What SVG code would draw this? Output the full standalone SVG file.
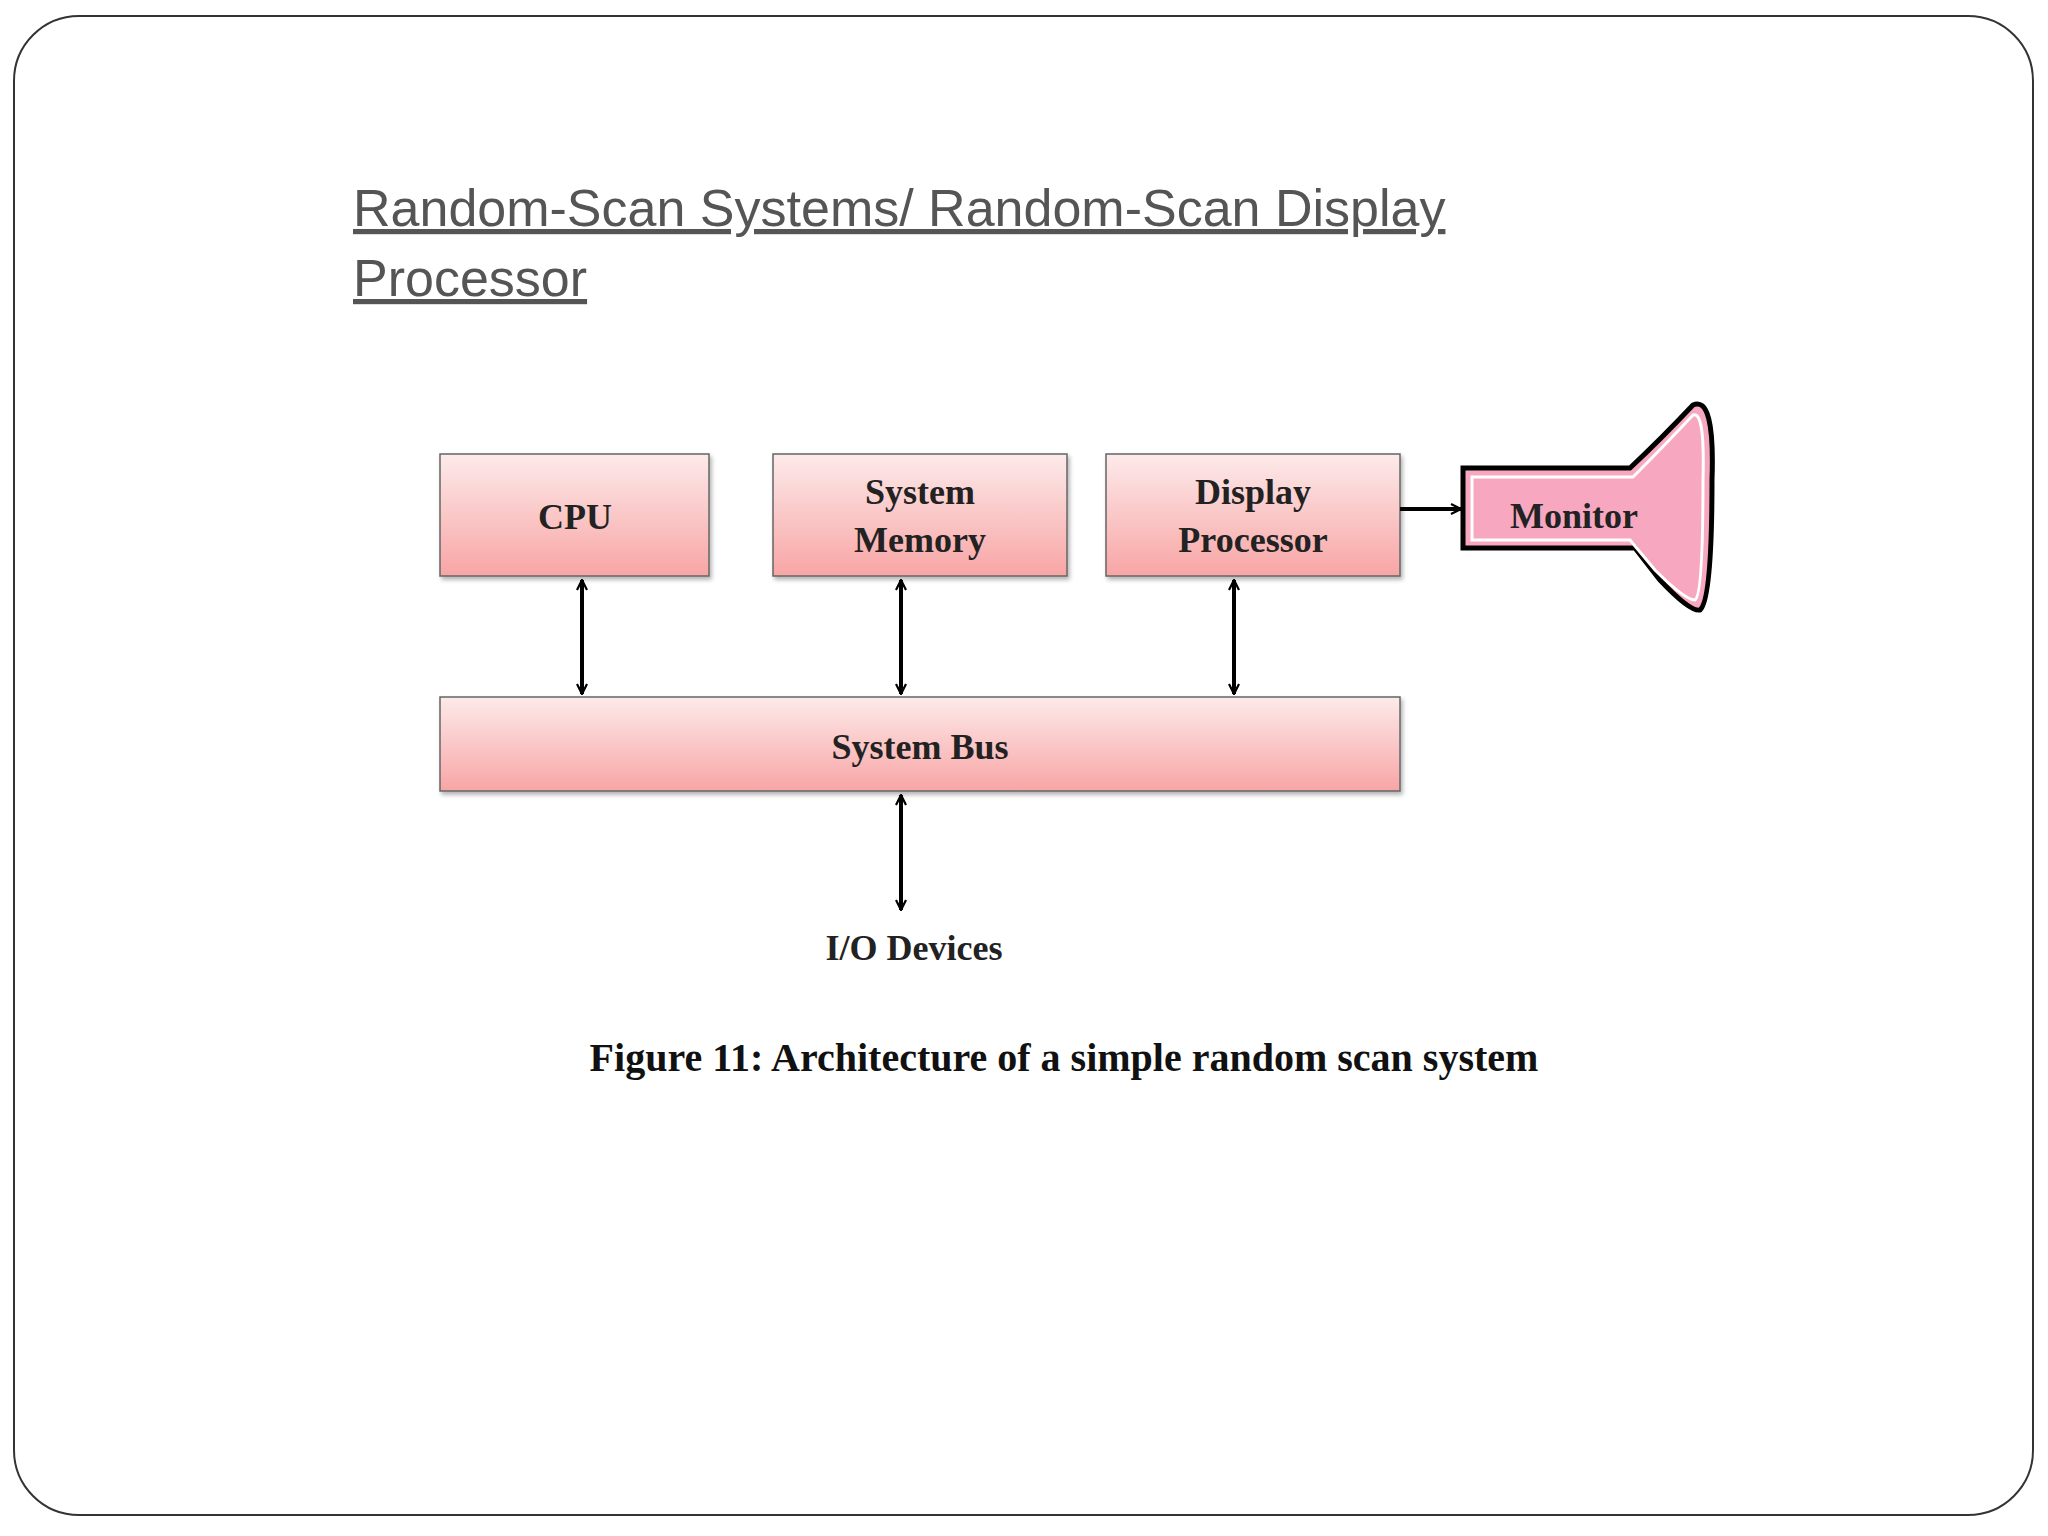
<svg xmlns="http://www.w3.org/2000/svg" width="2048" height="1536" viewBox="0 0 2048 1536">
<defs>
<linearGradient id="g" x1="0" y1="0" x2="0" y2="1"><stop offset="0" stop-color="#fdeaea"/><stop offset="1" stop-color="#f8a5a5"/></linearGradient>
<marker id="a" viewBox="0 0 12 12" refX="11" refY="6" markerWidth="12" markerHeight="12" markerUnits="userSpaceOnUse" orient="auto-start-reverse"><path d="M1,1 L11,6 L1,11" fill="none" stroke="#000" stroke-width="2.2"/></marker>
<filter id="s" x="-5%" y="-5%" width="115%" height="125%"><feDropShadow dx="2" dy="3" stdDeviation="2" flood-color="#000" flood-opacity="0.3"/></filter>
</defs>
<style>
.box{fill:url(#g);stroke:#666;stroke-width:1.5;filter:url(#s)}
.t{font-family:"Liberation Serif",serif;font-weight:bold;font-size:36px;fill:#222;text-anchor:middle}
.c{stroke:#000;stroke-width:4;fill:none;marker-start:url(#a);marker-end:url(#a)}
</style>
<rect width="2048" height="1536" fill="#fff"/>
<rect x="14" y="16" width="2019" height="1499" rx="65" fill="#fff" stroke="#333" stroke-width="2"/>
<g font-family="Liberation Sans,Arial,sans-serif" font-size="52" fill="#555" text-decoration="underline">
<text x="353" y="226">Random-Scan Systems/ Random-Scan Display</text>
<text x="353" y="296">Processor</text>
</g>
<g id="cpu"><rect class="box" x="440" y="454" width="269" height="122"/><text class="t" x="575" y="529">CPU</text></g>
<g id="memory"><rect class="box" x="773" y="454" width="294" height="122"/><text class="t" x="920" y="504">System</text><text class="t" x="920" y="552">Memory</text></g>
<g id="display"><rect class="box" x="1106" y="454" width="294" height="122"/><text class="t" x="1253" y="504">Display</text><text class="t" x="1253" y="552">Processor</text></g>
<g id="bus"><rect class="box" x="440" y="697" width="960" height="94"/><text class="t" x="920" y="759">System Bus</text></g>
<g id="monitor">
<path d="M1463,468 L1630,468 Q1660,440 1693,405 Q1715,395 1712,480 Q1712,600 1700,610 Q1690,612 1660,580 L1635,548 L1463,548 Z" fill="#f7a8c0" stroke="#000" stroke-width="5"/>
<path d="M1472,477 L1633,477 Q1665,445 1693,415 Q1705,410 1703,480 Q1703,595 1695,600 Q1685,600 1655,570 L1630,540 L1472,540 Z" fill="none" stroke="#fff" stroke-width="3"/>
<text class="t" x="1574" y="528">Monitor</text>
</g>
<g id="io"><text class="t" x="914" y="960">I/O Devices</text></g>
<g id="connectors">
<line class="c" x1="582" y1="580" x2="582" y2="694"/>
<line class="c" x1="901" y1="580" x2="901" y2="694"/>
<line class="c" x1="1234" y1="580" x2="1234" y2="694"/>
<line class="c" x1="901" y1="795" x2="901" y2="910"/>
<line x1="1400" y1="509" x2="1461" y2="509" stroke="#000" stroke-width="4" marker-end="url(#a)"/>
</g>
<text x="1064" y="1071" font-family="Liberation Serif,serif" font-weight="bold" font-size="40" text-anchor="middle" fill="#111">Figure 11: Architecture of a simple random scan system</text>
</svg>
